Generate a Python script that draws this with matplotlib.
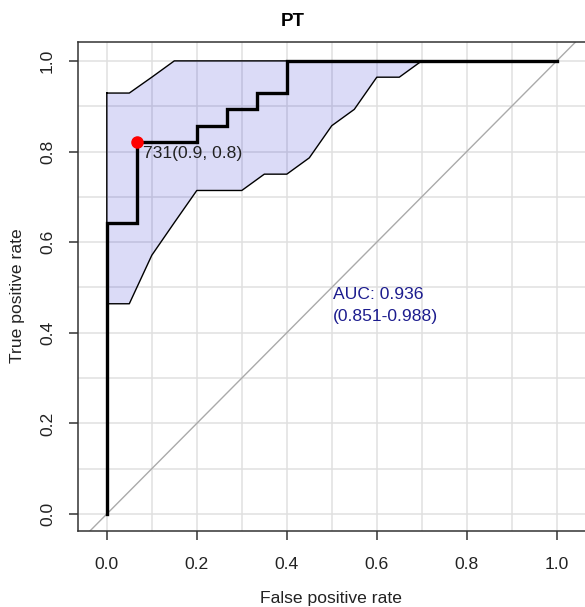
import matplotlib
matplotlib.use("Agg")
import matplotlib.pyplot as plt
import numpy as np

plt.rcParams['font.family'] = ['Liberation Sans', 'DejaVu Sans']

# ROC curve (false positive rate, true positive rate)
roc_fpr = [0.0, 0.0, 0.0667, 0.0667, 0.2, 0.2, 0.2667, 0.2667, 0.3333, 0.3333, 0.4, 0.4, 1.0]
roc_tpr = [0.0, 0.643, 0.643, 0.821, 0.821, 0.857, 0.857, 0.893, 0.893, 0.929, 0.929, 1.0, 1.0]

# Confidence band of sensitivity
ci_fpr = [0.0, 0.05, 0.1, 0.15, 0.2, 0.25, 0.3, 0.35, 0.4, 0.45, 0.5, 0.55, 0.6, 0.65, 0.7,
          0.75, 0.8, 0.85, 0.9, 0.95, 1.0]
ci_upper = [0.929, 0.929, 0.964, 1.0, 1.0, 1.0, 1.0, 1.0, 1.0, 1.0, 1.0, 1.0, 1.0, 1.0, 1.0,
            1.0, 1.0, 1.0, 1.0, 1.0, 1.0]
ci_lower = [0.464, 0.464, 0.571, 0.643, 0.714, 0.714, 0.714, 0.75, 0.75, 0.786, 0.857, 0.893,
            0.964, 0.964, 1.0, 1.0, 1.0, 1.0, 1.0, 1.0, 1.0]

# Best threshold
best_fpr = 0.0667
best_tpr = 0.821
best_label = "731(0.9, 0.8)"

auc_text = "AUC: 0.936"
auc_ci_text = "(0.851-0.988)"

title = "PT"
xlabel = "False positive rate"
ylabel = "True positive rate"
tick_vals = [0.0, 0.2, 0.4, 0.6, 0.8, 1.0]
grid_vals = [0.0, 0.1, 0.2, 0.3, 0.4, 0.5, 0.6, 0.7, 0.8, 0.9, 1.0]

W, H = 585, 607
fig = plt.figure(figsize=(W / 100, H / 100), dpi=100)
left, right, top, bottom = 78, 587, 42.3, 531
ax = fig.add_axes([left / W, (H - bottom) / H, (right - left) / W, (bottom - top) / H])
ax.set_xlim(-0.064, -0.064 + (right - left) / 450)
ax.set_ylim(-0.0375, 1.041)

fs = 12.6
# grid
for g in grid_vals:
    ax.axvline(g, color='#e0e0e0', lw=1.1, zorder=0)
    ax.axhline(g, color='#e0e0e0', lw=1.1, zorder=0)

# diagonal
ax.axline((0, 0), (1, 1), color='#aaaaaa', lw=1.0, zorder=1)

# CI band
ax.fill_between(ci_fpr, ci_lower, ci_upper, facecolor='#0000cc', alpha=0.14, lw=0, zorder=2)
ax.plot(ci_fpr + ci_fpr[::-1] + [ci_fpr[0]],
        ci_upper + ci_lower[::-1] + [ci_upper[0]], color='black', lw=1.0, zorder=3)

# ROC
ax.plot(roc_fpr, roc_tpr, color='black', lw=2.4, zorder=4, solid_joinstyle='miter')
ax.plot([best_fpr], [best_tpr], 'o', color='#ff0000', markersize=8, zorder=5)
ax.text(best_fpr + 0.0135, best_tpr - 0.035, best_label, fontsize=fs, color='#222222',
        ha='left', va='baseline', zorder=6)

ax.text(0.503, 0.4746, auc_text, fontsize=fs, color='#1c1c8e', ha='left', va='baseline')
ax.text(0.503, 0.4255, auc_ci_text, fontsize=fs, color='#1c1c8e', ha='left', va='baseline')

for s in ax.spines.values():
    s.set_color('#333333')
    s.set_linewidth(1.1)

ax.set_xticks(tick_vals)
ax.set_yticks(tick_vals)
ax.set_xticklabels([f"{v:.1f}" for v in tick_vals])
ax.set_yticklabels([f"{v:.1f}" for v in tick_vals], rotation=90, va='center')
ax.tick_params(axis='both', direction='out', length=6.5, width=1.1, color='#333333',
               labelsize=fs, labelcolor='#222222')
ax.tick_params(axis='x', pad=12)
ax.tick_params(axis='y', pad=10)

fig.text(293 / W, 1 - 21.5 / H, title, fontsize=13.5, fontweight='bold', ha='center', va='center')
fig.text(331.5 / W, 1 - 599 / H, xlabel, fontsize=fs, color='#222222', ha='center', va='center')
fig.text(18 / W, 1 - 296 / H, ylabel, fontsize=fs, color='#222222', ha='center', va='center',
         rotation=90)

fig.savefig('out.png', dpi=100)
